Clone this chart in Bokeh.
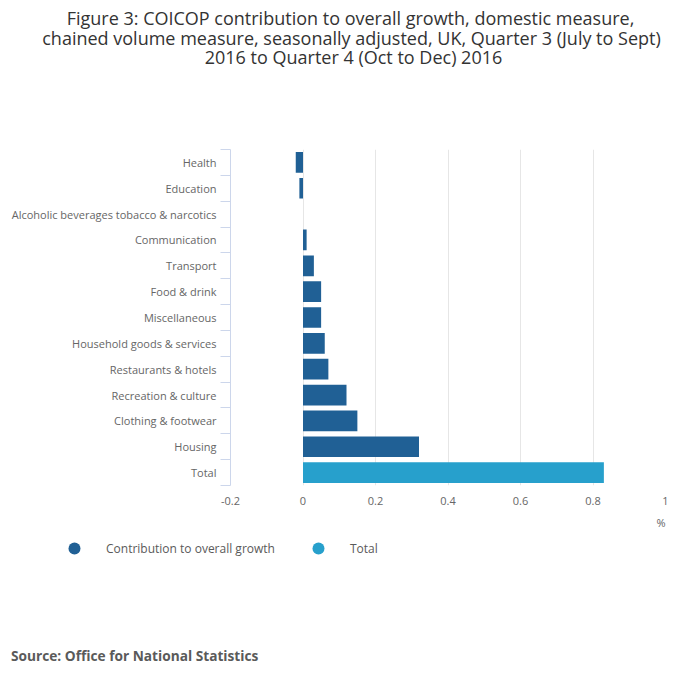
from bokeh.plotting import figure
from bokeh.models import (Range1d, FixedTicker, Label, Legend, LegendItem, ColumnDataSource)
from bokeh.layouts import column
from bokeh.embed import file_html
from bokeh.resources import INLINE

# ---- data ----
categories = ["Health", "Education", "Alcoholic beverages tobacco & narcotics",
              "Communication", "Transport", "Food & drink", "Miscellaneous",
              "Household goods & services", "Restaurants & hotels",
              "Recreation & culture", "Clothing & footwear", "Housing", "Total"]
values = [-0.02, -0.01, 0.0, 0.01, 0.03, 0.05, 0.05, 0.06, 0.07, 0.12, 0.15, 0.32, 0.83]
x_ticks = [-0.2, 0, 0.2, 0.4, 0.6, 0.8, 1]
x_tick_labels = ["-0.2", "0", "0.2", "0.4", "0.6", "0.8", "1"]
title_lines = ["Figure 3: COICOP contribution to overall growth, domestic measure,",
               "chained volume measure, seasonally adjusted, UK, Quarter 3 (July to Sept)",
               "2016 to Quarter 4 (Oct to Dec) 2016"]
series_names = ["Contribution to overall growth", "Total"]
source_text = "Source: Office for National Statistics"
unit_text = "%"

DARK = "#206095"
LIGHT = "#27a0cc"
FONT = "Open Sans"
NAN = float("nan")

W, H = 700, 682
HEAD_H = 120          # header strip (title)
FOOT_Y = 515          # page y where footer strip starts
FL, FR, FT, FB = 230, 665, 149, 485   # plot frame in page pixels


def blank(height, y0):
    f = figure(width=W, height=height, output_backend="svg", toolbar_location=None,
               x_range=Range1d(0, W), y_range=Range1d(y0 + height, y0),
               min_border=0, x_axis_type=None, y_axis_type=None, title=None,
               frame_align=False)
    f.outline_line_color = None
    f.grid.visible = False
    f.background_fill_color = "white"
    f.border_fill_color = "white"
    return f


# ---- header (title) ----
head = blank(HEAD_H, 0)
for line, cx, cy in zip(title_lines, [350, 351, 353], [17.5, 37, 56.5]):
    head.add_layout(Label(x=cx, y=cy, text=line, text_align="center",
                          text_baseline="middle", text_font=FONT,
                          text_font_size="18px", text_color="#333333"))

# ---- main chart ----
n = len(categories)
idx = list(range(n))
comp_src = ColumnDataSource(dict(y=idx[:-1], right=values[:-1]))
tot_src = ColumnDataSource(dict(y=idx[-1:], right=values[-1:]))

MAIN_H = FOOT_Y - HEAD_H
p = figure(width=W, height=MAIN_H, output_backend="svg", toolbar_location=None,
           x_range=Range1d(-0.2, 1), y_range=Range1d(n - 0.5, -0.5),
           min_border_left=FL, min_border_right=W - FR,
           min_border_top=FT - HEAD_H, min_border_bottom=FOOT_Y - FB, title=None,
           frame_align=False)
p.outline_line_color = None
p.background_fill_color = "white"
p.border_fill_color = "white"

p.hbar(y="y", right="right", left=0, height=0.8, source=comp_src,
       fill_color=DARK, line_color=None)
p.hbar(y="y", right="right", left=0, height=0.8, source=tot_src,
       fill_color=LIGHT, line_color=None)

xa = p.xaxis[0]
xa.ticker = FixedTicker(ticks=x_ticks)
xa.major_label_overrides = {t: l for t, l in zip(x_ticks, x_tick_labels)}
xa.axis_line_color = None
xa.major_tick_line_color = None
xa.minor_tick_line_color = None
xa.major_tick_out = 0
xa.major_tick_in = 0
xa.major_label_standoff = 11
xa.major_label_text_font = FONT
xa.major_label_text_font_size = "11px"
xa.major_label_text_color = "#666666"

ya = p.yaxis[0]
ya.ticker = FixedTicker(ticks=idx, minor_ticks=[i - 0.5 for i in range(n + 1)])
ya.major_label_overrides = {i: c for i, c in zip(idx, categories)}
ya.axis_line_color = "#ccd6eb"
ya.major_tick_line_color = None
ya.major_tick_out = 0
ya.major_tick_in = 0
ya.minor_tick_line_color = "#ccd6eb"
ya.minor_tick_out = 10
ya.minor_tick_in = 0
ya.major_label_standoff = 4
ya.major_label_text_font = FONT
ya.major_label_text_font_size = "11px"
ya.major_label_text_color = "#666666"

p.xgrid.ticker = FixedTicker(ticks=x_ticks[1:])
p.xgrid.grid_line_color = "#e6e6e6"
p.ygrid.grid_line_color = None

# ---- footer (unit, legend, source) ----
FOOT_H = H - FOOT_Y
foot = blank(FOOT_H, FOOT_Y)
foot.add_layout(Label(x=FR, y=522, text=unit_text, text_align="right",
                      text_baseline="middle", text_font=FONT, text_font_size="11px",
                      text_color="#666666"))
# legend-only renderers (no visible points)
d1 = foot.scatter(x=[NAN], y=[NAN], marker="circle", size=12, fill_color=DARK, line_color=None)
d2 = foot.scatter(x=[NAN], y=[NAN], marker="circle", size=12, fill_color=LIGHT, line_color=None)
legend = Legend(items=[LegendItem(label=series_names[0], renderers=[d1]),
                       LegendItem(label=series_names[1], renderers=[d2])],
                location=(59, H - 563), orientation="horizontal",
                glyph_width=30, glyph_height=30, label_height=30,
                label_standoff=17, spacing=28, padding=0, margin=0,
                border_line_color=None, background_fill_alpha=0,
                label_text_font=FONT, label_text_font_size="12px",
                label_text_color="#5a5a5a", label_text_baseline="middle")
foot.add_layout(legend, "center")
foot.add_layout(Label(x=10.5, y=654.5, text=source_text, text_align="left",
                      text_baseline="middle", text_font=FONT,
                      text_font_size="13.7px", text_font_style="bold",
                      text_color="#5a5a5a"))

layout = column(head, p, foot, spacing=0)
open("out.html", "w").write(file_html(layout, INLINE))
